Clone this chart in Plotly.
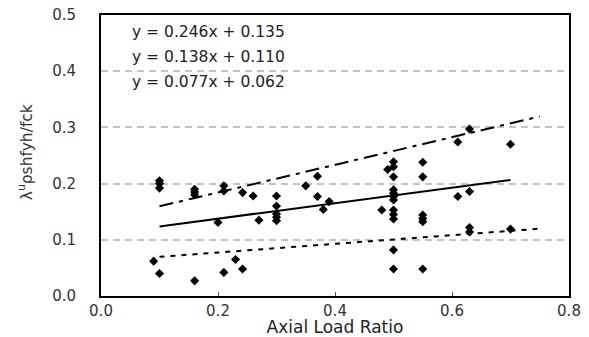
import numpy as np
import plotly.graph_objects as go

# Data points (axial load ratio, lambda value)
x_pts = [0.10, 0.10, 0.10, 0.16, 0.16, 0.16, 0.21, 0.21, 0.242, 0.26,
         0.30, 0.30, 0.30, 0.30, 0.30, 0.20, 0.27,
         0.09, 0.10, 0.16, 0.21, 0.23, 0.242,
         0.37, 0.35, 0.37, 0.39, 0.38, 0.48, 0.49,
         0.50, 0.50, 0.50, 0.50, 0.50, 0.50, 0.50, 0.50, 0.50, 0.50, 0.50, 0.50,
         0.55, 0.55, 0.55, 0.55, 0.55, 0.55,
         0.61, 0.61, 0.63, 0.63, 0.63, 0.63, 0.70, 0.70]
y_pts = [0.205, 0.200, 0.192, 0.190, 0.185, 0.180, 0.196, 0.187, 0.184, 0.178,
         0.178, 0.160, 0.146, 0.140, 0.134, 0.131, 0.135,
         0.062, 0.040, 0.027, 0.042, 0.065, 0.048,
         0.213, 0.196, 0.177, 0.168, 0.154, 0.153, 0.225,
         0.239, 0.230, 0.212, 0.189, 0.183, 0.177, 0.171, 0.153, 0.145, 0.137, 0.082, 0.048,
         0.238, 0.212, 0.144, 0.138, 0.132, 0.048,
         0.274, 0.177, 0.297, 0.186, 0.122, 0.114, 0.270, 0.119]

# Regression lines
slopes = [0.246, 0.138, 0.077]
intercepts = [0.135, 0.110, 0.062]
x_start = [0.10, 0.10, 0.10]
x_end = [0.75, 0.70, 0.75]
dashes = ["14px,6px,4px,6px", "solid", "5px,6px"]
eq_labels = ["y = 0.246x + 0.135", "y = 0.138x + 0.110", "y = 0.077x + 0.062"]
eq_y = [0.470, 0.425, 0.381]

x_ticks = [0.0, 0.2, 0.4, 0.6, 0.8]
y_ticks = [0.0, 0.1, 0.2, 0.3, 0.4, 0.5]

fig = go.Figure()
fig.add_trace(go.Scatter(x=x_pts, y=y_pts, mode="markers",
                         marker=dict(symbol="diamond", size=7, color="black"),
                         showlegend=False))
for m, b, x0, x1, d in zip(slopes, intercepts, x_start, x_end, dashes):
    xs = np.array([x0, x1])
    fig.add_trace(go.Scatter(x=xs, y=m * xs + b, mode="lines",
                             line=dict(color="black", width=2, dash=d),
                             showlegend=False))

for t, yy in zip(eq_labels, eq_y):
    fig.add_annotation(x=0.05, y=yy, xref="x", yref="y", text=t, showarrow=False,
                       xanchor="left", yanchor="middle",
                       font=dict(family="DejaVu Sans", size=15.5, color="#222"))

fig.add_annotation(x=-0.162, y=0.512, xref="paper", yref="paper",
                   text="λ<sup>u</sup>ρshfyh/fck", textangle=-90, showarrow=False,
                   xanchor="center", yanchor="middle",
                   font=dict(family="DejaVu Sans", size=15.5, color="#333"))

fig.update_layout(
    width=589, height=337,
    margin=dict(l=101, r=20, t=15, b=41),
    paper_bgcolor="white", plot_bgcolor="white",
    xaxis=dict(range=[0, 0.8], tickvals=x_ticks, tickformat=".1f", automargin=False,
               showgrid=False, zeroline=False,
               showline=True, mirror=True, linecolor="black", linewidth=2,
               ticks="inside", ticklen=4, tickcolor="#555",
               tickfont=dict(family="DejaVu Sans", size=15, color="#333"),
               title=dict(text="Axial Load Ratio", standoff=4,
                          font=dict(family="DejaVu Sans", size=17, color="#222"))),
    yaxis=dict(range=[0, 0.5], tickvals=y_ticks, tickformat=".1f", automargin=False,
               showgrid=True, gridcolor="#c4c4c4", gridwidth=1.5, griddash="7px,5px",
               zeroline=False,
               showline=True, mirror=True, linecolor="black", linewidth=2,
               ticks="", ticklabelstandoff=20,
               tickfont=dict(family="DejaVu Sans", size=15, color="#333")),
)

fig.write_html("out.html", config={"displayModeBar": False},
               post_script="document.body.style.margin='0';document.body.style.overflow='hidden';")
